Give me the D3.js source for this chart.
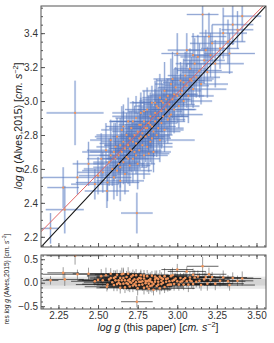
<!DOCTYPE html>
<html>
<head>
<meta charset="utf-8">
<script src="https://d3js.org/d3.v7.min.js"></script>
<style>
body { margin: 0; background: #fff; }
svg { font-family: "Liberation Sans", Arial, sans-serif; }
.tick text { font-family: "Liberation Sans Narrow", "Arial Narrow", sans-serif; font-size: 10px; fill: #333; }
.tick line { stroke: #555; }
</style>
</head>
<body>
<div id="chart"></div>
<script>
// log g from this paper (x) and from Alves 2015 (y), with their errors
var logg_paper = [2.20,2.29,2.28,2.355,2.37,2.44,2.48,2.50,2.52,2.556,2.745,2.53,2.55,2.56,2.57,2.58,2.59,2.60,2.60,2.61,
  2.62,2.62,2.63,2.64,2.64,2.65,2.65,2.66,2.66,2.67,2.67,2.68,2.68,2.69,2.69,2.70,2.70,2.71,2.71,2.72,
  2.72,2.73,2.73,2.74,2.74,2.75,2.75,2.76,2.76,2.77,2.77,2.78,2.78,2.79,2.79,2.80,2.80,2.81,2.81,2.82,
  2.82,2.83,2.83,2.84,2.84,2.85,2.85,2.86,2.86,2.87,2.87,2.88,2.88,2.89,2.89,2.90,2.90,2.91,2.92,2.92,
  2.93,2.94,2.94,2.95,2.96,2.96,2.97,2.98,2.99,3.00,3.00,3.01,3.02,3.03,3.04,3.05,3.06,3.06,3.07,3.08,
  3.09,3.10,3.11,3.12,3.13,3.14,3.15,3.16,3.17,3.18,3.19,3.21,3.22,3.24,3.27,3.29,3.32,3.35,3.38,3.41,
  2.58,2.61,2.63,2.66,2.69,2.72,2.74,2.77,2.79,2.81,2.84,2.86,2.88,2.91,2.93,2.95,2.98,3.02,3.04,3.08,
  2.70,2.76,2.83,2.90,2.97,2.64,2.82,3.10,3.20,3.33];
var logg_alves = [2.25,2.36,2.49,2.93,2.55,2.63,2.51,2.56,2.66,2.47,2.34,2.58,2.71,2.52,2.64,2.77,2.60,2.55,2.70,2.66,
  2.79,2.59,2.68,2.74,2.61,2.83,2.70,2.64,2.76,2.57,2.72,2.80,2.67,2.74,2.88,2.62,2.78,2.71,2.84,2.66,
  2.76,2.80,2.70,2.90,2.75,2.63,2.82,2.78,2.71,2.86,2.93,2.74,2.81,2.68,2.88,2.79,2.84,2.95,2.73,2.87,
  2.80,2.91,2.76,2.85,2.99,2.82,2.70,2.93,2.88,2.80,2.97,2.90,2.84,3.02,2.77,2.94,2.87,2.99,2.83,3.06,
  2.95,2.89,3.03,2.98,3.10,2.92,3.01,2.95,3.08,3.03,3.28,2.97,3.12,3.06,3.00,3.15,3.09,3.30,3.03,3.19,
  3.12,3.07,3.22,3.14,3.26,3.18,3.10,3.51,3.24,3.30,3.17,3.27,3.34,3.22,3.31,3.40,3.35,3.45,3.42,3.50,
  2.68,2.73,2.63,2.85,2.66,2.88,2.68,2.79,2.94,2.84,2.78,2.99,2.96,2.91,3.01,2.91,3.04,3.04,3.11,3.13,
  2.72,2.86,2.86,3.00,3.13,2.53,2.69,3.27,3.38,3.28];
var err_paper = [0.05,0.12,0.10,0.18,0.22,0.10,0.15,0.12,0.09,0.14,0.10,0.16,0.12,0.20,0.10,0.13,0.18,0.11,0.15,0.09,
  0.14,0.22,0.12,0.10,0.17,0.13,0.25,0.11,0.14,0.16,0.10,0.19,0.12,0.15,0.11,0.13,0.21,0.10,0.14,0.17,
  0.12,0.09,0.15,0.13,0.23,0.11,0.16,0.12,0.14,0.10,0.18,0.13,0.11,0.15,0.20,0.12,0.09,0.14,0.16,0.11,
  0.13,0.24,0.10,0.15,0.12,0.17,0.11,0.13,0.19,0.10,0.14,0.12,0.16,0.11,0.22,0.13,0.10,0.15,0.12,0.14,
  0.18,0.11,0.13,0.16,0.10,0.20,0.12,0.14,0.11,0.17,0.10,0.13,0.15,0.12,0.18,0.11,0.14,0.12,0.16,0.10,
  0.13,0.21,0.12,0.15,0.11,0.14,0.17,0.10,0.13,0.11,0.16,0.12,0.14,0.18,0.12,0.15,0.11,0.13,0.10,0.12,
  0.14,0.12,0.16,0.11,0.13,0.15,0.12,0.18,0.10,0.14,0.12,0.16,0.11,0.13,0.15,0.12,0.14,0.11,0.13,0.15,
  0.12,0.13,0.10,0.14,0.12,0.15,0.13,0.12,0.11,0.16];
var err_alves = [0.09,0.14,0.12,0.19,0.10,0.13,0.09,0.11,0.15,0.10,0.12,0.12,0.16,0.11,0.14,0.12,0.10,0.13,0.17,0.12,
  0.11,0.15,0.10,0.16,0.12,0.14,0.11,0.13,0.18,0.12,0.10,0.13,0.15,0.11,0.14,0.12,0.16,0.13,0.10,0.14,
  0.12,0.17,0.11,0.13,0.12,0.15,0.11,0.14,0.10,0.16,0.12,0.13,0.11,0.14,0.12,0.15,0.10,0.13,0.12,0.16,
  0.11,0.14,0.12,0.13,0.10,0.15,0.12,0.14,0.11,0.13,0.16,0.12,0.10,0.14,0.13,0.12,0.15,0.11,0.13,0.17,
  0.12,0.14,0.10,0.13,0.15,0.12,0.11,0.14,0.12,0.16,0.12,0.13,0.11,0.15,0.12,0.14,0.13,0.10,0.16,0.12,
  0.14,0.11,0.15,0.12,0.13,0.16,0.12,0.20,0.14,0.12,0.15,0.13,0.11,0.14,0.12,0.15,0.13,0.12,0.11,0.15,
  0.10,0.14,0.12,0.13,0.15,0.12,0.11,0.14,0.12,0.10,0.15,0.13,0.12,0.14,0.11,0.13,0.15,0.12,0.14,0.11,
  0.13,0.12,0.14,0.12,0.16,0.12,0.11,0.13,0.14,0.12];

var fit = { intercept: 0.199, slope: 0.949 };   // red line
var band_inner = [-0.06, 0.08];
var band_outer = [-0.13, 0.13];
var xTicks = [2.25, 2.50, 2.75, 3.00, 3.25, 3.50];
var yTicks = [2.2, 2.4, 2.6, 2.8, 3.0, 3.2, 3.4];
var resTicks = [-0.5, 0.0, 0.5];

var stars = logg_paper.map(function (d, i) {
  return { x: d, y: logg_alves[i], ex: err_paper[i], ey: err_alves[i], r: logg_alves[i] - d };
});

var width = 274, height = 343;
var L = 41, R = 266, T = 6, B = 247, rT = 255, rB = 309;

var x = d3.scaleLinear().domain([2.14, 3.56]).range([L, R]);
var y = d3.scaleLinear().domain([2.14, 3.56]).range([B, T]);
var yr = d3.scaleLinear().domain([-0.56, 0.59]).range([rB, rT]);

var svg = d3.select("#chart").append("svg")
  .attr("width", width).attr("height", height);

svg.append("clipPath").attr("id", "clipMain").append("rect")
  .attr("x", L).attr("y", T).attr("width", R - L).attr("height", B - T);
svg.append("clipPath").attr("id", "clipRes").append("rect")
  .attr("x", L).attr("y", rT).attr("width", R - L).attr("height", rB - rT);

// ---- main panel
var main = svg.append("g").attr("clip-path", "url(#clipMain)");

function bars(g, yScale, yKey, eKey, color, w, op) {
  g.selectAll(null).data(stars).enter().append("line")
    .attr("x1", function (d) { return x(d.x - d.ex); })
    .attr("x2", function (d) { return x(d.x + d.ex); })
    .attr("y1", function (d) { return yScale(d[yKey]); })
    .attr("y2", function (d) { return yScale(d[yKey]); })
    .attr("stroke", color).attr("stroke-width", w).attr("opacity", op);
  g.selectAll(null).data(stars).enter().append("line")
    .attr("x1", function (d) { return x(d.x); })
    .attr("x2", function (d) { return x(d.x); })
    .attr("y1", function (d) { return yScale(d[yKey] - d[eKey]); })
    .attr("y2", function (d) { return yScale(d[yKey] + d[eKey]); })
    .attr("stroke", color).attr("stroke-width", w).attr("opacity", op);
}

bars(main, y, "y", "ey", "#a8bce4", 2.2, 0.45);
bars(main, y, "y", "ey", "#5676bb", 0.8, 0.65);

main.append("line")
  .attr("x1", x(2.14)).attr("y1", y(2.14)).attr("x2", x(3.56)).attr("y2", y(3.56))
  .attr("stroke", "#111").attr("stroke-width", 1.1);
main.append("line")
  .attr("x1", x(2.14)).attr("y1", y(fit.intercept + fit.slope * 2.14))
  .attr("x2", x(3.56)).attr("y2", y(fit.intercept + fit.slope * 3.56))
  .attr("stroke", "#e06666").attr("stroke-width", 1);

main.selectAll(null).data(stars).enter().append("circle")
  .attr("cx", function (d) { return x(d.x); })
  .attr("cy", function (d) { return y(d.y); })
  .attr("r", 1.1).attr("fill", "#f0935a");

// ---- residual panel
var res = svg.append("g").attr("clip-path", "url(#clipRes)");
res.append("rect").attr("x", L).attr("width", R - L)
  .attr("y", yr(band_outer[1])).attr("height", yr(band_outer[0]) - yr(band_outer[1]))
  .attr("fill", "#e8e8e8");
res.append("rect").attr("x", L).attr("width", R - L)
  .attr("y", yr(band_inner[1])).attr("height", yr(band_inner[0]) - yr(band_inner[1]))
  .attr("fill", "#d4d4d4");

res.selectAll(null).data(stars).enter().append("line")
  .attr("x1", function (d) { return x(d.x); })
  .attr("x2", function (d) { return x(d.x); })
  .attr("y1", function (d) { return yr(d.r - d.ey); })
  .attr("y2", function (d) { return yr(d.r + d.ey); })
  .attr("stroke", "#666").attr("stroke-width", 0.9).attr("opacity", 0.7);
res.selectAll(null).data(stars).enter().append("line")
  .attr("x1", function (d) { return x(d.x - d.ex); })
  .attr("x2", function (d) { return x(d.x + d.ex); })
  .attr("y1", function (d) { return yr(d.r); })
  .attr("y2", function (d) { return yr(d.r); })
  .attr("stroke", "#1a1a1a").attr("stroke-width", 0.9).attr("opacity", 0.75);
res.selectAll(null).data(stars).enter().append("circle")
  .attr("cx", function (d) { return x(d.x); })
  .attr("cy", function (d) { return yr(d.r); })
  .attr("r", 1.3).attr("fill", "#f0935a");

// ---- axes (ticks inward)
function axis(gen, tr, vals, size, fmt) {
  var g = svg.append("g").attr("transform", tr)
    .call(gen.tickValues(vals).tickSize(size).tickPadding(3).tickFormat(fmt || ""));
  g.select(".domain").remove();
  return g;
}
var minorX = d3.range(2.15, 3.56, 0.05);
var minorY = d3.range(2.15, 3.56, 0.05);
var minorR = d3.range(-0.5, 0.55, 0.1);

axis(d3.axisLeft(y), "translate(" + L + ",0)", minorY, -2);
axis(d3.axisLeft(y), "translate(" + L + ",0)", yTicks, -4, d3.format(".1f"));
axis(d3.axisBottom(x), "translate(0," + B + ")", minorX, -2);
axis(d3.axisBottom(x), "translate(0," + B + ")", xTicks, -4);

axis(d3.axisLeft(yr), "translate(" + L + ",0)", minorR, -2);
axis(d3.axisLeft(yr), "translate(" + L + ",0)", resTicks, -4, d3.format(".1f"));
axis(d3.axisBottom(x), "translate(0," + rB + ")", minorX, -2);
axis(d3.axisBottom(x), "translate(0," + rB + ")", xTicks, -4, d3.format(".2f"));
axis(d3.axisTop(x), "translate(0," + rT + ")", minorX, -2);
axis(d3.axisTop(x), "translate(0," + rT + ")", xTicks, -4);

// frames
[[T, B], [rT, rB]].forEach(function (p) {
  svg.append("rect").attr("x", L).attr("y", p[0]).attr("width", R - L).attr("height", p[1] - p[0])
    .attr("fill", "none").attr("stroke", "#555").attr("stroke-width", 1);
});

// ---- axis titles
function title(tx, ty, rot, size, pre, mid) {
  var t = svg.append("text")
    .attr("transform", "translate(" + tx + "," + ty + ")" + (rot ? " rotate(-90)" : ""))
    .attr("text-anchor", "middle").attr("font-size", size).attr("fill", "#222");
  if (pre) t.append("tspan").text(pre);
  t.append("tspan").attr("font-style", "italic").text("log g");
  t.append("tspan").text(mid + " [");
  t.append("tspan").attr("font-style", "italic").text("cm. s");
  t.append("tspan").attr("dy", -size * 0.4).attr("font-size", size * 0.7).text("\u22122");
  t.append("tspan").attr("dy", size * 0.4).text("]");
}
title(22, 126, true, 10.5, null, " (Alves,2015)");
title(9, 279, true, 6.6, "res ", " (Alves,2015)");
title(158, 331, false, 10.5, null, " (this paper)");
</script>
</body>
</html>
